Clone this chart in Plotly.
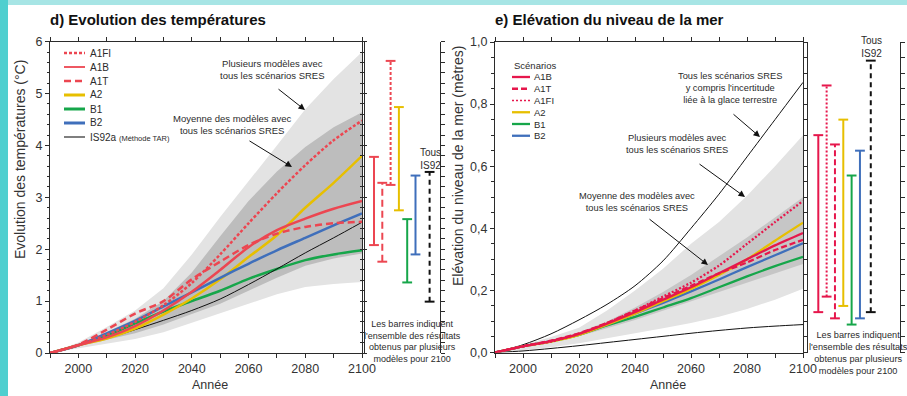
import plotly.graph_objects as go

W, H = 907, 396
FONT = "Liberation Sans, Arial, sans-serif"
INK = "#2b2b2b"

# ---------------- data ----------------
years = [1990, 2000, 2010, 2020, 2030, 2040, 2050, 2060, 2070, 2080, 2090, 2100]

# d) temperature change (°C)
temp_A1FI = [0, 0.15, 0.35, 0.60, 0.92, 1.35, 1.90, 2.50, 3.08, 3.62, 4.10, 4.48]
temp_A1B = [0, 0.15, 0.30, 0.52, 0.82, 1.18, 1.60, 2.04, 2.37, 2.59, 2.78, 2.93]
temp_A1T = [0, 0.16, 0.45, 0.76, 1.00, 1.42, 1.76, 2.08, 2.30, 2.43, 2.50, 2.53]
temp_A2 = [0, 0.15, 0.28, 0.47, 0.74, 1.05, 1.42, 1.85, 2.27, 2.80, 3.28, 3.80]
temp_B1 = [0, 0.15, 0.33, 0.57, 0.80, 1.00, 1.20, 1.43, 1.62, 1.79, 1.90, 1.98]
temp_B2 = [0, 0.15, 0.38, 0.62, 0.90, 1.17, 1.45, 1.72, 1.98, 2.22, 2.46, 2.69]
temp_IS92a = [0, 0.15, 0.28, 0.45, 0.63, 0.82, 1.04, 1.32, 1.62, 1.93, 2.22, 2.52]

temp_all_hi = [0, 0.20, 0.50, 0.82, 1.25, 1.90, 2.62, 3.30, 4.00, 4.70, 5.28, 5.80]
temp_all_lo = [0, 0.10, 0.18, 0.27, 0.40, 0.58, 0.76, 0.95, 1.13, 1.27, 1.33, 1.37]
temp_mean_hi = [0, 0.17, 0.40, 0.66, 1.00, 1.55, 2.25, 2.93, 3.50, 3.97, 4.35, 4.64]
temp_mean_lo = [0, 0.13, 0.25, 0.38, 0.55, 0.75, 0.95, 1.20, 1.45, 1.68, 1.82, 1.92]

temp_bar_names = ["A1B", "A1T", "A1FI", "A2", "B1", "B2", "IS92"]
temp_bar_lo = [2.08, 1.76, 3.24, 2.75, 1.36, 1.90, 0.99]
temp_bar_hi = [3.78, 3.28, 5.63, 4.74, 2.58, 3.42, 3.49]

# e) sea level rise (m)
sea_A1B = [0, 0.020, 0.037, 0.060, 0.093, 0.130, 0.170, 0.210, 0.255, 0.300, 0.345, 0.385]
sea_A1T = [0, 0.020, 0.038, 0.062, 0.095, 0.135, 0.175, 0.215, 0.255, 0.290, 0.330, 0.363]
sea_A1FI = [0, 0.020, 0.035, 0.060, 0.095, 0.135, 0.180, 0.225, 0.280, 0.350, 0.420, 0.488]
sea_A2 = [0, 0.020, 0.035, 0.057, 0.090, 0.125, 0.165, 0.205, 0.250, 0.300, 0.360, 0.418]
sea_B1 = [0, 0.020, 0.036, 0.057, 0.087, 0.115, 0.145, 0.175, 0.210, 0.245, 0.278, 0.308]
sea_B2 = [0, 0.020, 0.037, 0.058, 0.090, 0.125, 0.160, 0.197, 0.235, 0.275, 0.313, 0.352]

sea_ice_hi = [0, 0.025, 0.060, 0.105, 0.155, 0.215, 0.295, 0.400, 0.510, 0.630, 0.750, 0.870]
sea_ice_lo = [0, 0.005, 0.013, 0.022, 0.032, 0.042, 0.052, 0.062, 0.071, 0.079, 0.085, 0.090]
sea_all_hi = [0, 0.025, 0.050, 0.080, 0.135, 0.200, 0.270, 0.350, 0.420, 0.505, 0.600, 0.700]
sea_all_lo = [0, 0.007, 0.017, 0.030, 0.045, 0.062, 0.078, 0.095, 0.115, 0.140, 0.170, 0.205]
sea_mean_hi = [0, 0.022, 0.040, 0.065, 0.100, 0.145, 0.195, 0.250, 0.310, 0.370, 0.435, 0.500]
sea_mean_lo = [0, 0.018, 0.033, 0.052, 0.078, 0.105, 0.135, 0.165, 0.195, 0.225, 0.255, 0.285]

sea_bar_names = ["A1B", "A1FI", "A1T", "A2", "B1", "B2", "IS92"]
sea_bar_lo = [0.13, 0.18, 0.11, 0.15, 0.09, 0.11, 0.13]
sea_bar_hi = [0.70, 0.86, 0.67, 0.75, 0.57, 0.65, 0.94]

# ---------------- styles ----------------
RED_D = "#ec4651"
RED_E = "#e6174c"
YEL = "#e7bf00"
GRN = "#16a64a"
BLU = "#3f6fbb"
LIGHT = "#e3e3e3"
DARK = "#bdbdbd"

style_d = {
    "A1FI": dict(color=RED_D, width=2.5, dash="3px,2px"),
    "A1B": dict(color=RED_D, width=2.5, dash="solid"),
    "A1T": dict(color=RED_D, width=2.5, dash="7px,4px"),
    "A2": dict(color=YEL, width=2.5, dash="solid"),
    "B1": dict(color=GRN, width=2.5, dash="solid"),
    "B2": dict(color=BLU, width=2.5, dash="solid"),
    "IS92": dict(color="#111111", width=2, dash="5px,4px"),
}
style_e = {
    "A1B": dict(color=RED_E, width=2.3, dash="solid"),
    "A1T": dict(color=RED_E, width=2.3, dash="6px,3px"),
    "A1FI": dict(color=RED_E, width=2.3, dash="2px,2px"),
    "A2": dict(color=YEL, width=2.3, dash="solid"),
    "B1": dict(color=GRN, width=2.3, dash="solid"),
    "B2": dict(color=BLU, width=2.3, dash="solid"),
    "IS92": dict(color="#111111", width=2, dash="5px,4px"),
}
# horizontal slots of the range bars
slots_d = [0, 1, 2, 3, 4, 5, 6.7]
slots_e = [0, 1, 2, 3, 4, 5, 6.3]


def fx(px):
    return px / W


def fy(py):
    return 1 - py / H


fig = go.Figure()


def band(xa, ya, hi, lo, color):
    fig.add_trace(go.Scatter(
        x=years + years[::-1], y=hi + lo[::-1], xaxis=xa, yaxis=ya,
        fill="toself", fillcolor=color, mode="lines", line=dict(width=0, color=color),
        hoverinfo="skip", showlegend=False))


def curve(xa, ya, vals, line):
    fig.add_trace(go.Scatter(
        x=years, y=vals, xaxis=xa, yaxis=ya, mode="lines",
        line=dict(shape="spline", smoothing=0.8, **line), showlegend=False))


# ---- panel d
band("x", "y", temp_all_hi, temp_all_lo, LIGHT)
band("x", "y", temp_mean_hi, temp_mean_lo, DARK)
curve("x", "y", temp_B1, style_d["B1"])
curve("x", "y", temp_IS92a, dict(color="#111111", width=1))
curve("x", "y", temp_A2, style_d["A2"])
curve("x", "y", temp_B2, style_d["B2"])
curve("x", "y", temp_A1B, style_d["A1B"])
curve("x", "y", temp_A1T, style_d["A1T"])
curve("x", "y", temp_A1FI, style_d["A1FI"])

# ---- panel e
band("x2", "y2", sea_all_hi, sea_all_lo, LIGHT)
band("x2", "y2", sea_mean_hi, sea_mean_lo, "#c6c6c6")
curve("x2", "y2", sea_ice_hi, dict(color="#111111", width=1))
curve("x2", "y2", sea_ice_lo, dict(color="#111111", width=1))
curve("x2", "y2", sea_B1, style_e["B1"])
curve("x2", "y2", sea_B2, style_e["B2"])
curve("x2", "y2", sea_A2, style_e["A2"])
curve("x2", "y2", sea_A1T, style_e["A1T"])
curve("x2", "y2", sea_A1B, style_e["A1B"])
curve("x2", "y2", sea_A1FI, style_e["A1FI"])


def range_bars(xa, ya, names, slots, lo, hi, styles, lw):
    for name, s, a, b in zip(names, slots, lo, hi):
        st = styles[name]
        fig.add_trace(go.Scatter(
            x=[s, s], y=[a, b], xaxis=xa, yaxis=ya, mode="lines+markers",
            line=dict(color=st["color"], width=lw, dash=st["dash"]),
            marker=dict(symbol="line-ew", size=7,
                        line=dict(color=st["color"], width=2)),
            cliponaxis=False, showlegend=False))


range_bars("x3", "y", temp_bar_names, slots_d, temp_bar_lo, temp_bar_hi, style_d, 2)
range_bars("x4", "y2", sea_bar_names, slots_e, sea_bar_lo, sea_bar_hi, style_e, 2)

# ---------------- axes ----------------
axis_common = dict(
    showline=True, linecolor=INK, linewidth=1, mirror="allticks",
    ticks="outside", ticklen=4, tickcolor=INK, tickwidth=1,
    showgrid=False, zeroline=False, automargin=False,
    tickfont=dict(family=FONT, size=12.5, color="#333333"),
)

xd = dict(axis_common, domain=[fx(50), fx(362)], range=[1990, 2100], anchor="y",
          tick0=2000, dtick=20,
          minor=dict(ticks="outside", ticklen=4, dtick=10, tick0=1990, tickcolor=INK))
yd = dict(axis_common, domain=[fy(353), fy(41.7)], range=[0, 6], anchor="x",
          dtick=1, minor=dict(ticks="outside", ticklen=2, dtick=0.2, tickcolor=INK))
xe = dict(axis_common, domain=[fx(495), fx(803)], range=[1990, 2100], anchor="y2",
          tick0=2000, dtick=20,
          minor=dict(ticks="outside", ticklen=4, dtick=10, tick0=1990, tickcolor=INK))
ye = dict(axis_common, domain=[fy(352.5), fy(42)], range=[0, 1.0], anchor="x2",
          dtick=0.2, tickformat=".1f",
          minor=dict(ticks="outside", ticklen=3, dtick=0.05, tickcolor=INK))

# slots for range bars: px = 374 + 8.3 * slot (d), px = 818.3 + 8.33 * slot (e)
x3 = dict(domain=[fx(365), fx(440)], range=[(365 - 374) / 8.3, (440 - 374) / 8.3],
          anchor="y", visible=False, automargin=False)
x4 = dict(domain=[fx(808), fx(900)], range=[(808 - 818.3) / 8.33, (900 - 818.3) / 8.33],
          anchor="y2", visible=False, automargin=False)

# ---------------- text & decorations ----------------
ann = []
shapes = []


def text(px, py, s, size=10, xanchor="center", angle=0, color=INK):
    ann.append(dict(
        x=fx(px), y=fy(py), xref="paper", yref="paper", text=s, showarrow=False,
        xanchor=xanchor, yanchor="middle", textangle=angle, align="center",
        font=dict(family=FONT, size=size, color=color)))


def arrow(x0, y0, x1, y1):
    ann.append(dict(
        x=fx(x1), y=fy(y1), xref="paper", yref="paper", ax=x0 - x1, ay=y0 - y1,
        axref="pixel", ayref="pixel", text="", showarrow=True,
        arrowhead=2, arrowsize=1.3, arrowwidth=1, arrowcolor="#111111"))


# frame strips
shapes.append(dict(type="rect", xref="paper", yref="paper", x0=0, x1=fx(8), y0=0, y1=1,
                   fillcolor="#4fcfcf", line=dict(width=0), layer="below"))
shapes.append(dict(type="rect", xref="paper", yref="paper", x0=fx(8), x1=1, y0=fy(5), y1=1,
                   fillcolor="#a7e5e5", line=dict(width=0), layer="below"))

# titles
text(48, 19, "<b>d) Evolution des températures</b>", size=15, xanchor="left", color="#111111")
text(493, 19, "<b>e) Elévation du niveau de la mer</b>", size=15, xanchor="left", color="#111111")
text(20, 160, "Evolution des températures (°C)", size=14, angle=-90, color="#333333")
text(458, 166, "Elévation du niveau de la mer (mètres)", size=14, angle=-90, color="#333333")
text(210, 385, "Année", size=12.5, color="#333333")
text(668, 385, "Année", size=12.5, color="#333333")

# panel d notes
text(272, 69.5, "Plusieurs modèles avec<br>tous les scénarios SRES", size=9.5)
arrow(277, 88, 305, 110)
text(232, 125, "Moyenne des modèles avec<br>tous les scénarios SRES", size=9.5)
arrow(248, 140, 292, 167)
text(430, 158.5, "Tous<br>IS92", size=10)
text(412, 341.5, "Les barres indiquent<br>l'ensemble des résultats<br>obtenus par plusieurs<br>modèles pour 2100", size=9)

# panel e notes
text(730, 88, "Tous les scénarios SRES<br>y compris l'incertitude<br>liée à la glace terrestre", size=9.3)
arrow(732, 113, 760, 137)
text(677, 143.5, "Plusieurs modèles avec<br>tous les scénarios SRES", size=9.3)
arrow(698, 163, 745, 197)
text(637, 202, "Moyenne des modèles avec<br>tous les scénarios SRES", size=9.3)
arrow(648, 218, 708, 265)
text(871, 47, "Tous<br>IS92", size=10)
text(858, 352.5, "Les barres indiquent<br>l'ensemble des résultats<br>obtenus par plusieurs<br>modèles pour 2100", size=9.2)

# legend, panel d
legend_d = [("A1FI", style_d["A1FI"]), ("A1B", dict(color=RED_D, width=1.8, dash="solid")),
            ("A1T", style_d["A1T"]), ("A2", dict(style_d["A2"], width=3)),
            ("B1", dict(style_d["B1"], width=3)), ("B2", dict(style_d["B2"], width=3)),
            ("IS92a <span style='font-size:7.5px'>(Méthode TAR)</span>",
             dict(color="#555555", width=1.5, dash="solid"))]
for i, (label, st) in enumerate(legend_d):
    py = 53 + 14 * i
    shapes.append(dict(type="line", xref="paper", yref="paper", x0=fx(64), x1=fx(85),
                       y0=fy(py), y1=fy(py),
                       line=dict(color=st["color"], width=st["width"], dash=st["dash"])))
    text(88, py, label, size=10, xanchor="left")

# legend, panel e
text(512, 65, "Scénarios", size=9.5, xanchor="left")
legend_e = [("A1B", style_e["A1B"]), ("A1T", style_e["A1T"]),
            ("A1FI", dict(color=RED_E, width=1.5, dash="2px,2px")),
            ("A2", style_e["A2"]), ("B1", style_e["B1"]), ("B2", style_e["B2"])]
for i, (label, st) in enumerate(legend_e):
    py = 77 + 11.75 * i
    shapes.append(dict(type="line", xref="paper", yref="paper", x0=fx(512), x1=fx(530),
                       y0=fy(py), y1=fy(py),
                       line=dict(color=st["color"], width=st["width"], dash=st["dash"])))
    text(532, py, label, size=9.5, xanchor="left")

fig.update_layout(
    width=W, height=H, margin=dict(l=0, r=0, t=0, b=0, autoexpand=False),
    paper_bgcolor="white", plot_bgcolor="rgba(0,0,0,0)",
    separators=", ", showlegend=False,
    xaxis=xd, yaxis=yd, xaxis2=xe, yaxis2=ye, xaxis3=x3, xaxis4=x4,
    annotations=ann, shapes=shapes,
    font=dict(family=FONT, color=INK),
)

fig.write_html("out.html")
